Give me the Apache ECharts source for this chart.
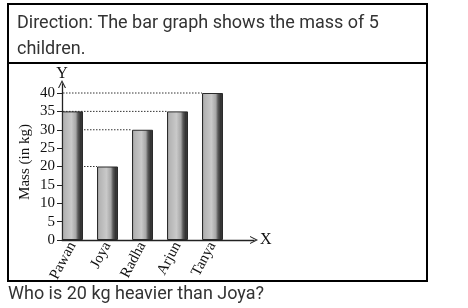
<!DOCTYPE html>
<html>
<head>
<meta charset="utf-8">
<script src="https://cdn.jsdelivr.net/npm/echarts@6/dist/echarts.min.js"></script>
<style>
html,body{margin:0;padding:0;background:#fff;}
#c{width:468px;height:308px;}
</style>
</head>
<body>
<div id="c"></div>
<script>
// ---- data ----
const categories = ['Pawan', 'Joya', 'Radha', 'Arjun', 'Tanya'];
const masses = [35, 20, 30, 35, 40];
const yTicks = [0, 5, 10, 15, 20, 25, 30, 35, 40];
const headerText = 'Direction: The bar graph shows the mass of 5\nchildren.';
const questionText = 'Who is 20 kg heavier than Joya?';
const yAxisTitle = 'Mass (in kg)';

// ---- layout ----
const AXIS_X = 62, BAND_LEFT = 55, BAND_W = 35, TOP = 84, BOTTOM = 68, X_END = 254, BAR_W = 21, Y_MAX = 42.45;
const serif = 'Liberation Serif';
const chevron = 'path://M0,10L5,0L10,10L8.6,10L5,2.8L1.4,10Z';

const chart = echarts.init(document.getElementById('c'), null, {renderer: 'canvas'});
const barColor = new echarts.graphic.LinearGradient(0, 0, 1, 0, [
  {offset: 0, color: '#8e8e8e'},
  {offset: 0.12, color: '#b4b4b4'},
  {offset: 0.45, color: '#c9c9c9'},
  {offset: 0.66, color: '#a6a6a6'},
  {offset: 0.76, color: '#5a5a5a'},
  {offset: 0.9, color: '#2e2e2e'},
  {offset: 1, color: '#4a4a4a'}
]);

chart.setOption({
  animation: false,
  backgroundColor: '#fff',
  title: [
    {text: headerText, left: 17, top: 10, padding: 0,
     textStyle: {fontFamily: 'Roboto', fontSize: 18, fontWeight: 'normal', color: '#333', lineHeight: 26}},
    {text: questionText, left: 8, top: 283, padding: 0,
     textStyle: {fontFamily: 'Roboto', fontSize: 18, fontWeight: 'normal', color: '#333', lineHeight: 22}}
  ],
  graphic: [
    {type: 'rect', shape: {x: 8, y: 4, width: 419, height: 277},
     style: {fill: 'none', stroke: '#000', lineWidth: 2}, silent: true},
    {type: 'line', shape: {x1: 8, y1: 63, x2: 427, y2: 63},
     style: {stroke: '#000', lineWidth: 2}, silent: true}
  ],
  grid: [
    {left: BAND_LEFT, width: BAND_W * categories.length, top: TOP, bottom: BOTTOM},
    {left: AXIS_X, width: X_END - AXIS_X, top: TOP, bottom: BOTTOM}
  ],
  xAxis: [
    {type: 'category', gridIndex: 0, data: categories,
     axisLine: {show: false}, axisTick: {show: false},
     axisLabel: {rotate: 62, margin: 3, fontFamily: serif, fontSize: 15, color: '#111', interval: 0}},
    {type: 'value', gridIndex: 1, min: 0, max: 1,
     axisLine: {show: true, symbol: ['none', chevron], symbolSize: [8, 9], lineStyle: {color: '#222', width: 1.3}},
     axisTick: {show: false}, axisLabel: {show: false}, splitLine: {show: false},
     name: 'X', nameGap: 6, nameTextStyle: {fontFamily: serif, fontSize: 16, color: '#111'}}
  ],
  yAxis: [
    {type: 'value', gridIndex: 0, min: 0, max: Y_MAX,
     axisLine: {show: false}, axisTick: {show: false}, axisLabel: {show: false}, splitLine: {show: false},
     name: yAxisTitle, nameLocation: 'middle', nameRotate: 90, nameGap: 22,
     nameTextStyle: {fontFamily: serif, fontSize: 15, color: '#111'}},
    {type: 'value', gridIndex: 1, min: 0, max: Y_MAX, interval: 5,
     axisLine: {show: true, symbol: ['none', chevron], symbolSize: [8, 9], lineStyle: {color: '#222', width: 1.3}},
     axisTick: {show: true, customValues: yTicks, length: 5, lineStyle: {color: '#222', width: 1}},
     axisLabel: {show: true, customValues: yTicks, margin: 7, fontFamily: serif, fontSize: 15, color: '#111'},
     splitLine: {show: false},
     name: 'Y', nameGap: 2, nameTextStyle: {fontFamily: serif, fontSize: 16, color: '#111'}}
  ],
  series: [
    {type: 'custom', xAxisIndex: 0, yAxisIndex: 0, z: 1,
     data: masses.map((v, i) => [i, v]),
     renderItem: function (params, api) {
       const p = api.coord([api.value(0), api.value(1)]);
       const xEnd = p[0] - BAR_W / 2;
       if (xEnd <= AXIS_X + 1) return null;
       return {type: 'line', shape: {x1: AXIS_X + 1, y1: p[1], x2: xEnd, y2: p[1]},
               style: {stroke: '#333', lineWidth: 1, lineDash: [1.5, 1.5]}};
     }},
    {type: 'bar', xAxisIndex: 0, yAxisIndex: 0, z: 3, barWidth: BAR_W,
     data: masses,
     itemStyle: {color: barColor, borderColor: '#2a2a2a', borderWidth: 1}}
  ]
});
</script>
</body>
</html>
